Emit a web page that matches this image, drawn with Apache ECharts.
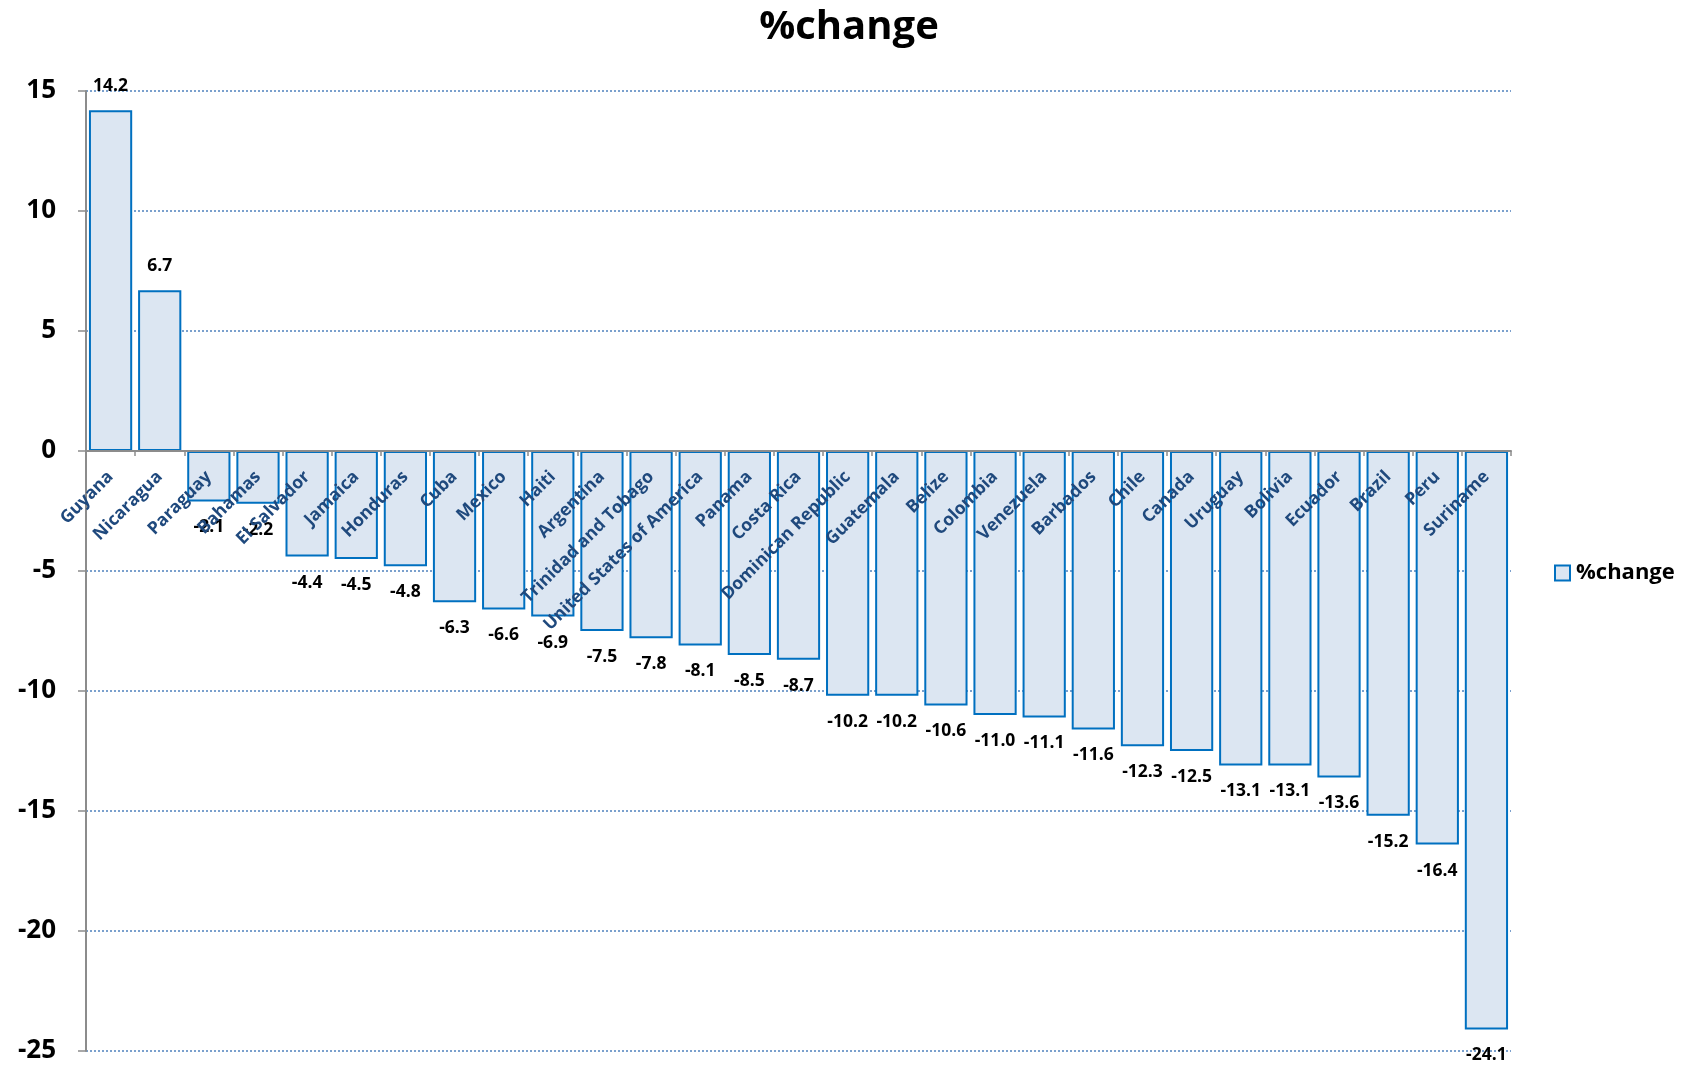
<!DOCTYPE html>
<html>
<head>
<meta charset="utf-8">
<script src="https://cdn.jsdelivr.net/npm/echarts@6/dist/echarts.min.js"></script>
<style>
html,body{margin:0;padding:0;background:#fff;}
#chart{width:1692px;height:1070px;}
</style>
</head>
<body>
<div id="chart"></div>
<script>
const categories = ["Guyana","Nicaragua","Paraguay","Bahamas","El Salvador","Jamaica","Honduras","Cuba","Mexico","Haiti","Argentina","Trinidad and Tobago","United States of America","Panama","Costa Rica","Dominican Republic","Guatemala","Belize","Colombia","Venezuela","Barbados","Chile","Canada","Uruguay","Bolivia","Ecuador","Brazil","Peru","Suriname"];
const values = [14.2,6.7,-2.1,-2.2,-4.4,-4.5,-4.8,-6.3,-6.6,-6.9,-7.5,-7.8,-8.1,-8.5,-8.7,-10.2,-10.2,-10.6,-11.0,-11.1,-11.6,-12.3,-12.5,-13.1,-13.1,-13.6,-15.2,-16.4,-24.1];
const seriesName = "%change";
const yMin = -25, yMax = 15, yStep = 5;

const FONT = "Open Sans";
const W = 1692, H = 1070;
const G = {left: 86, right: 181, top: 91, bottom: 19};
const plotH = H - G.top - G.bottom;
// x axis sits at value 0: shift it up from the grid bottom by the scale position of 0
const zeroOffset = -plotH * (0 - yMin) / (yMax - yMin);

const chart = echarts.init(document.getElementById('chart'));
const data = values.map(v => ({
  value: v,
  label: v >= 0 ? {position: 'top', distance: 15} : {position: 'bottom', distance: 17}
}));
chart.setOption({
  animation: false,
  title: {
    text: seriesName, left: 844, top: 3, textAlign: 'center',
    textStyle: {fontFamily: FONT, fontWeight: 'bold', fontSize: 40, color: '#000'}
  },
  legend: {
    data: [seriesName], left: 1549, top: 557, orient: 'vertical',
    icon: 'rect', itemWidth: 15, itemHeight: 15, itemGap: 6,
    textStyle: {fontFamily: FONT, fontWeight: 'bold', fontSize: 22, color: '#000', padding: [0, 0, 0, 1]}
  },
  grid: Object.assign({containLabel: false, outerBoundsMode: 'none'}, G),
  xAxis: {
    type: 'category', data: categories, position: 'bottom', offset: zeroOffset,
    axisLine: {onZero: false, lineStyle: {color: '#8c8c8c', width: 2}},
    axisTick: {show: true, length: 5, lineStyle: {color: '#8c8c8c', width: 1.5}},
    axisLabel: {
      rotate: 45, margin: 23, interval: 0,
      fontFamily: FONT, fontWeight: 'bold', fontSize: 17.5, color: '#1F497D'
    },
    z: 5
  },
  yAxis: {
    type: 'value', min: yMin, max: yMax, interval: yStep,
    axisLine: {show: true, lineStyle: {color: '#8c8c8c', width: 2}},
    axisTick: {show: true, length: 8, lineStyle: {color: '#8c8c8c', width: 1.5}},
    axisLabel: {margin: 30, fontFamily: FONT, fontWeight: 'bold', fontSize: 26, color: '#000'},
    splitLine: {show: true, lineStyle: {color: '#4F81BD', width: 1.5, type: [2, 2]}}
  },
  series: [{
    name: seriesName, type: 'bar', data: data,
    barCategoryGap: '12%',
    itemStyle: {color: '#DCE6F2', borderColor: '#0070C0', borderWidth: 2},
    label: {
      show: true, fontFamily: FONT, fontWeight: 'bold', fontSize: 17.5, color: '#000',
      formatter: p => p.value.toFixed(1)
    },
    z: 2
  }]
});
</script>
</body>
</html>
